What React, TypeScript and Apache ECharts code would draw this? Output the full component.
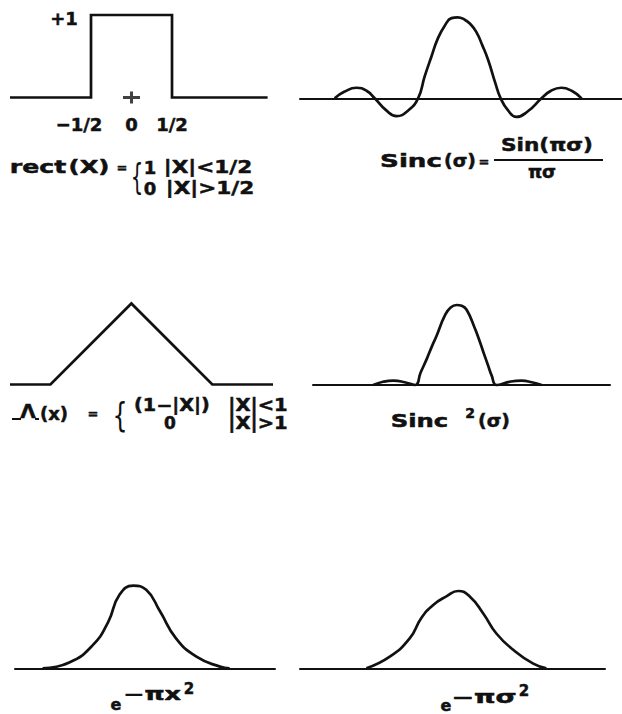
import { useEffect, useRef } from "react";
import * as echarts from "echarts";

const INK = "#111111";
const FONT = '"DejaVu Sans", "Liberation Sans", sans-serif';

// rect(x): unit pulse between -1/2 and 1/2
const rectPoints = [[-1.5, 0], [-0.5, 0], [-0.5, 1], [0.5, 1], [0.5, 0], [1.68, 0]];
const rectTicks = [-0.5, 0, 0.5];
const rectTickLabels = ["−1/2", "0", "1/2"];
const originMark = [[0, 0]];

// Sinc(σ)
const sincPoints = [
  [-3.03, 0], [-2.8, 0.08], [-2.5, 0.13], [-2.25, 0.09], [-2.06, 0],
  [-1.8, -0.14], [-1.53, -0.22], [-1.25, -0.15], [-1.01, 0],
  [-0.85, 0.27], [-0.69, 0.51], [-0.53, 0.74], [-0.36, 0.9], [-0.2, 0.99],
  [-0.05, 1.0], [0.12, 0.97], [0.25, 0.92], [0.4, 0.82], [0.55, 0.65],
  [0.69, 0.47], [0.86, 0.19], [0.99, 0],
  [1.17, -0.15], [1.37, -0.23], [1.65, -0.16], [1.98, 0],
  [2.2, 0.09], [2.46, 0.13], [2.72, 0.09], [2.95, 0],
];

// triangle function
const triPoints = [[-1.5, 0], [-1, 0], [0, 1], [1, 0], [1.75, 0]];

// Sinc²(σ)
const sinc2Points = [
  [-2.02, 0], [-1.78, 0.04], [-1.53, 0.055], [-1.25, 0.035], [-1.0, 0],
  [-0.86, 0.16], [-0.71, 0.33], [-0.59, 0.48], [-0.47, 0.62], [-0.27, 0.87],
  [-0.13, 0.97], [0.02, 1.0], [0.14, 0.99], [0.26, 0.94], [0.46, 0.71],
  [0.57, 0.56], [0.67, 0.41], [0.78, 0.25], [0.87, 0.12], [0.99, 0],
  [1.3, 0.04], [1.6, 0.055], [1.85, 0.035], [2.09, 0],
];

// Gaussian in x
const gaussXPoints = [
  [-1.1, 0], [-0.77, 0.07], [-0.48, 0.28], [-0.29, 0.56], [-0.15, 0.89],
  [0.02, 1.0], [0.18, 0.95], [0.35, 0.69], [0.55, 0.36], [0.8, 0.14],
  [1.09, 0.02], [1.21, 0],
];

// Gaussian in σ
const gaussSigmaPoints = [
  [-2.23, 0], [-1.66, 0.15], [-1.17, 0.39], [-0.89, 0.65], [-0.6, 0.82],
  [-0.28, 0.93], [0.01, 1.0], [0.29, 0.93], [0.62, 0.71], [0.94, 0.45],
  [1.35, 0.24], [1.84, 0.06], [2.16, 0],
];

type Panel = {
  grid: { left: number; top: number; width: number; height: number };
  x: [number, number];
  y: [number, number];
  baseline: boolean;
};

const panels: Panel[] = [
  { grid: { left: 10, top: 15, width: 257.6, height: 82.5 }, x: [-1.5, 1.68], y: [0, 1], baseline: false },
  { grid: { left: 300, top: 17.3, width: 322, height: 105.3 }, x: [-3.87, 3.93], y: [-0.3, 1], baseline: true },
  { grid: { left: 10, top: 303.5, width: 263, height: 81 }, x: [-1.5, 1.75], y: [0, 1], baseline: false },
  { grid: { left: 313, top: 305, width: 297, height: 80 }, x: [-3.49, 3.76], y: [0, 1], baseline: true },
  { grid: { left: 15, top: 585.7, width: 260, height: 82.6 }, x: [-1.44, 1.77], y: [0, 1], baseline: true },
  { grid: { left: 300, top: 591, width: 305, height: 77.3 }, x: [-3.85, 3.59], y: [0, 1], baseline: true },
];

// centred text; sx widens the lettering horizontally
function txt(text: string, x: number, y: number, size = 18, sx = 1, weight = "bold") {
  return {
    type: "text",
    x,
    y,
    scaleX: sx,
    style: {
      text,
      fill: INK,
      stroke: weight === "bold" ? INK : undefined,
      lineWidth: weight === "bold" ? 0.5 : 0,
      font: `${weight} ${size}px ${FONT}`,
      align: "center",
      verticalAlign: "middle",
      textAlign: "center",
      textVerticalAlign: "middle",
    },
  };
}

function seg(x1: number, y1: number, x2: number, y2: number, w = 2) {
  return { type: "line", shape: { x1, y1, x2, y2 }, style: { stroke: INK, lineWidth: w } };
}

function curve(index: number, data: number[][], smooth: number | boolean) {
  return {
    type: "line",
    xAxisIndex: index,
    yAxisIndex: index,
    data,
    symbol: "none",
    smooth,
    clip: false,
    lineStyle: { color: INK, width: 2.7, join: "miter", cap: "butt" },
  };
}

export default function App() {
  const ref = useRef<HTMLDivElement>(null);

  useEffect(() => {
    if (!ref.current) return;
    const chart = echarts.init(ref.current, null, { renderer: "svg" });

    const grid = panels.map((p) => ({ ...p.grid, outerBoundsMode: "none", containLabel: false }));

    const tickFont = {
      color: INK,
      fontFamily: FONT,
      fontWeight: "bold",
      fontSize: 18,
      textBorderColor: INK,
      textBorderWidth: 0.5,
    };

    const xAxis = panels.map((p, i) => ({
      type: "value",
      gridIndex: i,
      min: p.x[0],
      max: p.x[1],
      splitLine: { show: false },
      axisTick: { show: false },
      axisLine: { show: p.baseline, onZero: true, lineStyle: { color: INK, width: 2 } },
      axisLabel:
        i === 0
          ? {
              show: true,
              customValues: rectTicks,
              margin: 18,
              ...tickFont,
              formatter: (v: number) => {
                const k = rectTicks.indexOf(v);
                if (k < 0) return "";
                return k === 0 ? `{neg|${rectTickLabels[k]}}` : rectTickLabels[k];
              },
              rich: {
                neg: { padding: [0, 24, 0, 0], ...tickFont },
              },
            }
          : { show: false },
    }));

    const yAxis = panels.map((p, i) => ({
      type: "value",
      gridIndex: i,
      min: p.y[0],
      max: p.y[1],
      show: false,
    }));

    const graphic = [
      // rect(x) annotations
      txt("+1", 64, 18),
      txt("rect", 38, 167, 18, 1.4),
      txt("(X)", 89, 167, 18, 1.35),
      txt("=", 122, 167, 13),
      txt("{", 137, 177, 36, 0.55, "normal"),
      txt("1", 150, 167),
      txt("0", 150, 188),
      txt("|X|<1/2", 208, 167, 18, 1.2),
      txt("|X|>1/2", 210, 188, 18, 1.2),

      // Sinc(σ) definition
      txt("Sinc", 411, 161, 18, 1.45),
      txt("(σ)", 460, 161, 18, 1.05),
      txt("=", 484, 161, 13),
      txt("Sin(πσ)", 547, 145, 18, 1.2),
      seg(494, 160, 603, 160, 2),
      txt("πσ", 542, 171),

      // triangle definition
      txt("Λ", 28, 411, 20),
      seg(12, 419, 21, 419, 2),
      seg(35, 419, 39, 419, 2),
      txt("(x)", 54, 413),
      txt("=", 93, 413, 13),
      txt("{", 120, 415, 34, 0.7, "normal"),
      txt("(1−|X|)", 172, 405, 17, 1.13),
      txt("0", 170, 423, 17),
      txt("|X|<1", 258, 405, 17, 1.15),
      txt("|X|>1", 258, 423, 17, 1.15),

      // Sinc²(σ)
      txt("Sinc", 419.5, 421, 18, 1.35),
      txt("2", 470, 413, 14),
      txt("(σ)", 494, 421, 18, 1.05),

      // Gaussians
      txt("e", 116, 704.5, 16),
      txt("−πx", 152, 694, 17, 1.5),
      txt("2", 189, 689, 15),
      txt("e", 446, 705, 16),
      txt("−πσ", 484, 697, 17, 1.6),
      txt("2", 524, 691, 15),
    ];

    chart.setOption({
      animation: false,
      backgroundColor: "#ffffff",
      grid,
      xAxis,
      yAxis,
      graphic,
      series: [
        curve(0, rectPoints, false),
        {
          type: "scatter",
          xAxisIndex: 0,
          yAxisIndex: 0,
          data: originMark,
          symbol: "path://M0,4.5H17V7.5H0Z M7,0H10V12H7Z",
          symbolSize: [17, 12],
          itemStyle: { color: INK },
          clip: false,
        },
        curve(1, sincPoints, 0.5),
        curve(2, triPoints, false),
        curve(3, sinc2Points, 0.5),
        curve(4, gaussXPoints, 0.5),
        curve(5, gaussSigmaPoints, 0.5),
      ],
    });

    return () => chart.dispose();
  }, []);

  return (
    <div
      ref={ref}
      style={{ position: "absolute", left: 0, top: 0, width: 622, height: 714, background: "#fff" }}
    />
  );
}
